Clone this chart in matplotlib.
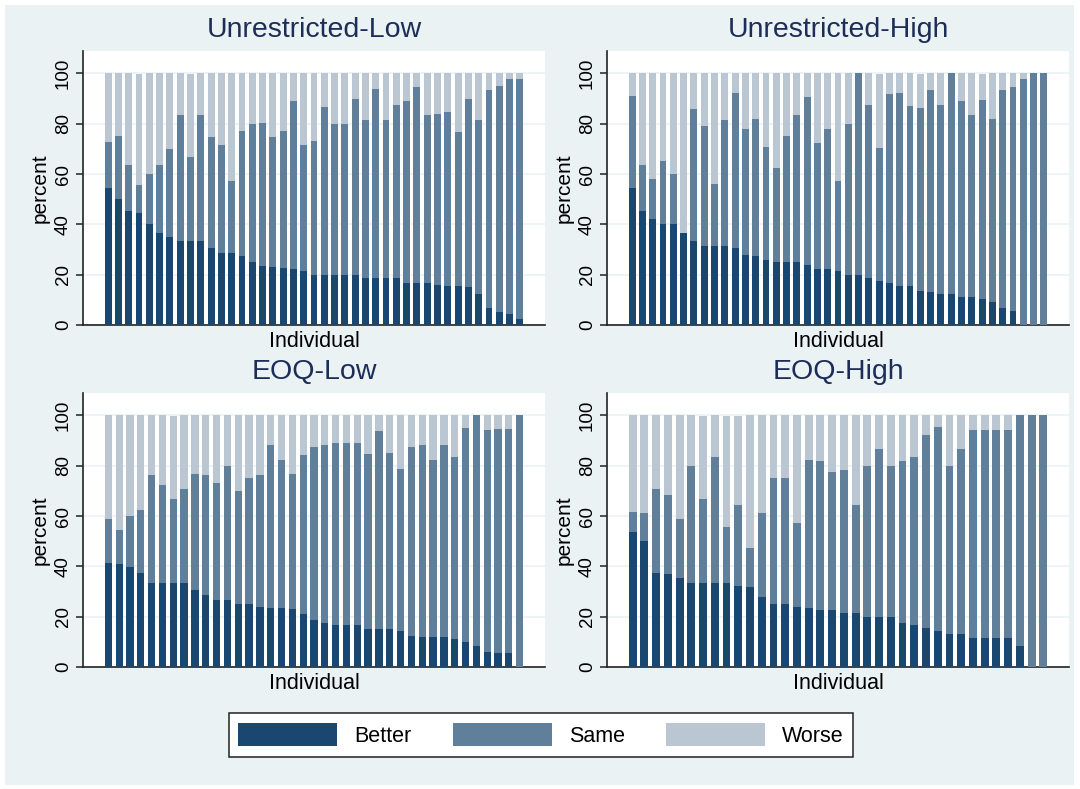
#!/usr/bin/env python

import matplotlib
matplotlib.use('Agg')
import matplotlib.pyplot as plt
from matplotlib.patches import Rectangle

# share of periods each individual did better / same / worse (percent)
ul_better = [54.5, 50.0, 45.5, 44.4, 40.0, 36.4, 35.0, 33.3, 33.3, 33.3, 30.6, 28.6, 28.6,
             27.3, 25.0, 23.4, 23.0, 22.6, 22.2, 21.4, 20.0, 20.0, 20.0, 20.0, 20.0, 18.8,
             18.8, 18.8, 18.8, 16.7, 16.7, 16.7, 15.9, 15.4, 15.4, 15.0, 12.5, 6.7, 5.3,
             4.5, 2.2]
ul_same = [18.2, 25.0, 18.2, 11.1, 20.0, 27.3, 35.0, 50.0, 33.3, 50.0, 44.1, 42.9, 28.6,
           50.0, 55.0, 56.7, 51.7, 54.5, 66.7, 50.0, 53.3, 66.7, 60.0, 60.0, 70.0, 62.5,
           75.0, 62.5, 68.8, 72.2, 77.8, 66.7, 67.9, 69.2, 61.5, 75.0, 68.8, 86.7, 89.5,
           93.2, 95.5]
ul_worse = [27.3, 25.0, 36.4, 44.4, 40.0, 36.4, 30.0, 16.7, 33.3, 16.7, 25.3, 28.6, 42.9,
            22.7, 20.0, 19.9, 25.3, 22.9, 11.1, 28.6, 26.7, 13.3, 20.0, 20.0, 10.0, 18.8,
            6.3, 18.8, 12.5, 11.1, 5.6, 16.7, 16.2, 15.4, 23.1, 10.0, 18.8, 6.7, 5.3,
            2.3, 2.3]

uh_better = [54.5, 45.5, 42.1, 40.0, 40.0, 36.4, 33.3, 31.4, 31.4, 31.3, 30.8, 27.8, 27.3,
             25.8, 25.0, 25.0, 25.0, 23.8, 22.2, 22.2, 21.4, 20.0, 20.0, 18.8, 17.6, 16.7,
             15.4, 15.5, 13.6, 13.3, 12.5, 12.5, 11.1, 11.1, 10.3, 9.1, 6.7, 5.6, 0.0,
             0.0, 0.0]
uh_same = [36.4, 18.2, 15.8, 25.0, 20.0, 0.0, 52.4, 47.7, 24.6, 50.0, 61.5, 50.0, 54.5,
           45.0, 37.5, 50.0, 58.3, 66.7, 50.0, 55.6, 35.7, 60.0, 80.0, 68.8, 52.9, 75.0,
           76.9, 71.5, 72.7, 80.0, 75.0, 87.5, 77.8, 72.2, 79.3, 72.7, 86.7, 88.9, 97.7,
           100.0, 100.0]
uh_worse = [9.1, 36.4, 42.1, 35.0, 40.0, 63.6, 14.3, 20.9, 44.0, 18.8, 7.7, 22.2, 18.2,
            29.3, 37.5, 25.0, 16.7, 9.5, 27.8, 22.2, 42.9, 20.0, 0.0, 12.5, 29.4, 8.3,
            7.7, 13.0, 13.6, 6.7, 12.5, 0.0, 11.1, 16.7, 10.3, 18.2, 6.7, 5.6, 2.3,
            0.0, 0.0]

el_better = [41.2, 40.9, 39.6, 37.5, 33.3, 33.3, 33.3, 33.3, 30.5, 28.6, 26.5, 26.7, 24.9,
             25.0, 23.8, 23.3, 23.3, 22.9, 20.9, 18.5, 17.4, 16.7, 16.7, 16.7, 15.0, 15.0,
             15.0, 14.3, 12.2, 11.8, 11.8, 11.8, 11.1, 9.8, 8.3, 5.9, 5.6, 5.6, 0.0]
el_same = [17.6, 13.6, 20.3, 25.0, 42.9, 38.9, 33.3, 37.3, 46.1, 47.6, 46.5, 53.3, 44.9,
           50.0, 52.4, 64.8, 58.8, 53.7, 63.2, 68.8, 70.7, 72.2, 72.2, 72.2, 69.5, 78.6,
           69.9, 64.2, 75.1, 76.3, 70.3, 76.3, 72.2, 85.0, 91.7, 88.2, 88.9, 88.9, 100.0]
el_worse = [41.2, 45.5, 40.1, 37.5, 23.8, 27.8, 33.3, 29.4, 23.4, 23.8, 27.0, 20.0, 30.2,
            25.0, 23.8, 11.9, 17.9, 23.4, 15.9, 12.7, 11.9, 11.1, 11.1, 11.1, 15.5, 6.4,
            15.1, 21.5, 12.7, 11.9, 17.9, 11.9, 16.7, 5.2, 0.0, 5.9, 5.6, 5.6, 0.0]

eh_better = [53.8, 50.0, 37.2, 36.8, 35.3, 33.3, 33.3, 33.3, 33.3, 32.1, 31.6, 27.8, 25.0,
             25.0, 23.8, 23.3, 22.5, 22.5, 21.3, 21.3, 19.7, 19.7, 19.7, 17.6, 16.7, 15.4,
             14.3, 13.3, 13.0, 11.4, 11.4, 11.4, 11.4, 8.3, 0.0, 0.0]
eh_same = [7.7, 11.1, 33.4, 31.4, 23.5, 46.7, 33.3, 50.0, 22.2, 32.1, 15.8, 33.3, 50.0,
           50.0, 33.3, 58.8, 59.2, 54.9, 56.8, 42.9, 60.0, 66.8, 60.0, 64.1, 66.7, 76.7,
           81.0, 66.7, 73.5, 82.6, 82.6, 82.6, 82.6, 91.7, 100.0, 100.0]
eh_worse = [38.5, 38.9, 29.4, 31.8, 41.2, 20.0, 33.3, 16.7, 44.4, 35.7, 52.6, 38.9, 25.0,
            25.0, 42.9, 17.9, 18.3, 22.6, 21.9, 35.8, 20.3, 13.5, 20.3, 18.3, 16.7, 7.9,
            4.8, 20.0, 13.5, 6.0, 6.0, 6.0, 6.0, 0.0, 0.0, 0.0]

titles = ['Unrestricted-Low', 'Unrestricted-High', 'EOQ-Low', 'EOQ-High']
labels = ['Better', 'Same', 'Worse']
colors = ['#1a476f', '#5f7f9b', '#bac7d2']
bg = '#eaf2f3'

W, H = 1080.0, 789.0
# plot regions in pixels: left, top, right, bottom
boxes = [(83, 51, 545, 325), (607, 51, 1069, 325),
         (83, 393, 545, 667), (607, 393, 1069, 667)]


def panel(fig, box, title, better, same, worse):
    l, t, r, b = box
    ax = fig.add_axes([l / W, 1 - b / H, (r - l) / W, (b - t) / H])
    ax.set_facecolor('white')
    n = len(better)
    x = list(range(n))
    width = 0.67
    bottom2 = [a + s for a, s in zip(better, same)]
    h1 = ax.bar(x, better, width, color=colors[0], zorder=3)
    h2 = ax.bar(x, same, width, bottom=better, color=colors[1], zorder=3)
    h3 = ax.bar(x, worse, width, bottom=bottom2, color=colors[2], zorder=3)

    # same outer gaps on both sides, whatever the bar count
    pad = 0.047
    span = (n - 1) + width
    total = span / (1 - 2 * pad)
    lo = -width / 2 - pad * total
    ax.set_xlim(lo, lo + total)
    ax.set_ylim(0, 108.9)
    ax.set_yticks([0, 20, 40, 60, 80, 100])
    ax.set_xticks([])
    ax.grid(axis='y', color=bg, linewidth=1.2, zorder=0)
    for s in ['top', 'right']:
        ax.spines[s].set_visible(False)
    for s in ['left', 'bottom']:
        ax.spines[s].set_color('#222222')
        ax.spines[s].set_linewidth(1.2)
    ax.tick_params(axis='y', length=5, width=1.1, color='#222222', pad=3,
                   labelsize=13.5, labelrotation=90)
    for lab in ax.get_yticklabels():
        lab.set_va('center')
    ax.set_ylabel('percent', fontsize=15, labelpad=4)
    ax.set_xlabel('Individual', fontsize=15.5, labelpad=4)
    fig.text((l + r) / 2 / W, 1 - (t - 21) / H, title, ha='center', va='center',
             fontsize=20.5, color='#1c2d58')
    return h1, h2, h3


def main():
    plt.rcParams['font.family'] = ['Liberation Sans', 'DejaVu Sans']
    fig = plt.figure(figsize=(10.8, 7.89), dpi=100, facecolor='white')
    fig.patches.append(Rectangle((5 / W, 4 / H), 1 - 11 / W, 1 - 9 / H,
                                 transform=fig.transFigure, facecolor=bg,
                                 edgecolor='none', zorder=-10))

    data = [(ul_better, ul_same, ul_worse), (uh_better, uh_same, uh_worse),
            (el_better, el_same, el_worse), (eh_better, eh_same, eh_worse)]
    handles = None
    for box, title, d in zip(boxes, titles, data):
        handles = panel(fig, box, title, *d)

    leg = fig.legend(handles, labels, loc='center', ncol=3,
                     bbox_to_anchor=(541 / W, 1 - 735 / H), fontsize=15.5,
                     handlelength=4.6, handleheight=1.3, handletextpad=0.8,
                     columnspacing=1.9, borderpad=0.45, frameon=True,
                     fancybox=False, edgecolor='#222222', facecolor='white',
                     framealpha=1)
    leg.get_frame().set_linewidth(1.1)

    fig.savefig('out.png', dpi=100, facecolor='white')


if __name__ == '__main__':
    main()
